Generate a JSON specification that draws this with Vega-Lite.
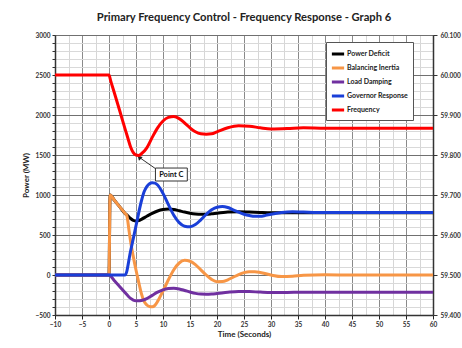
{
  "$schema": "https://vega.github.io/schema/vega-lite/v6.json",
  "width": 378,
  "height": 280,
  "autosize": {"type": "none"},
  "padding": {"left": 55, "top": 35, "right": 29, "bottom": 33},
  "background": "white",
  "title": {"text": "Primary Frequency Control - Frequency Response - Graph 6", "font": "Lato", "fontSize": 11.2, "fontWeight": "bold", "color": "#222222", "anchor": "middle", "offset": 9},
  "datasets": {
    "power": [
      {"t": -10, "s": "Power Deficit", "v": 0}, {"t": 0, "s": "Power Deficit", "v": 0}, {"t": 0.2, "s": "Power Deficit", "v": 1000}, {"t": 1, "s": "Power Deficit", "v": 934}, {"t": 2, "s": "Power Deficit", "v": 851}, {"t": 3, "s": "Power Deficit", "v": 768}, {"t": 3.3, "s": "Power Deficit", "v": 752}, {"t": 3.7, "s": "Power Deficit", "v": 724}, {"t": 4, "s": "Power Deficit", "v": 706}, {"t": 4.5, "s": "Power Deficit", "v": 684}, {"t": 5, "s": "Power Deficit", "v": 676}, {"t": 5.5, "s": "Power Deficit", "v": 681}, {"t": 6, "s": "Power Deficit", "v": 696}, {"t": 7, "s": "Power Deficit", "v": 734}, {"t": 8, "s": "Power Deficit", "v": 771}, {"t": 9, "s": "Power Deficit", "v": 800}, {"t": 10, "s": "Power Deficit", "v": 818}, {"t": 11, "s": "Power Deficit", "v": 824}, {"t": 12, "s": "Power Deficit", "v": 818}, {"t": 13, "s": "Power Deficit", "v": 803}, {"t": 14, "s": "Power Deficit", "v": 787}, {"t": 15, "s": "Power Deficit", "v": 773}, {"t": 16, "s": "Power Deficit", "v": 763}, {"t": 17, "s": "Power Deficit", "v": 758}, {"t": 18, "s": "Power Deficit", "v": 759}, {"t": 19, "s": "Power Deficit", "v": 765}, {"t": 20, "s": "Power Deficit", "v": 773}, {"t": 22, "s": "Power Deficit", "v": 786}, {"t": 24, "s": "Power Deficit", "v": 791}, {"t": 26, "s": "Power Deficit", "v": 787}, {"t": 28, "s": "Power Deficit", "v": 781}, {"t": 30, "s": "Power Deficit", "v": 777}, {"t": 35, "s": "Power Deficit", "v": 779}, {"t": 40, "s": "Power Deficit", "v": 778}, {"t": 60, "s": "Power Deficit", "v": 778},
      {"t": -10, "s": "Balancing Inertia", "v": 0}, {"t": 0, "s": "Balancing Inertia", "v": 0}, {"t": 0.2, "s": "Balancing Inertia", "v": 1000}, {"t": 1, "s": "Balancing Inertia", "v": 934}, {"t": 2, "s": "Balancing Inertia", "v": 851}, {"t": 3, "s": "Balancing Inertia", "v": 768}, {"t": 3.3, "s": "Balancing Inertia", "v": 742}, {"t": 3.7, "s": "Balancing Inertia", "v": 560}, {"t": 4, "s": "Balancing Inertia", "v": 420}, {"t": 4.5, "s": "Balancing Inertia", "v": 230}, {"t": 5, "s": "Balancing Inertia", "v": 62}, {"t": 5.5, "s": "Balancing Inertia", "v": -90}, {"t": 6, "s": "Balancing Inertia", "v": -232}, {"t": 6.5, "s": "Balancing Inertia", "v": -330}, {"t": 7, "s": "Balancing Inertia", "v": -375}, {"t": 7.5, "s": "Balancing Inertia", "v": -395}, {"t": 8, "s": "Balancing Inertia", "v": -398}, {"t": 8.5, "s": "Balancing Inertia", "v": -380}, {"t": 9, "s": "Balancing Inertia", "v": -330}, {"t": 10, "s": "Balancing Inertia", "v": -200}, {"t": 11, "s": "Balancing Inertia", "v": -60}, {"t": 12, "s": "Balancing Inertia", "v": 65}, {"t": 13, "s": "Balancing Inertia", "v": 150}, {"t": 14, "s": "Balancing Inertia", "v": 183}, {"t": 15, "s": "Balancing Inertia", "v": 172}, {"t": 16, "s": "Balancing Inertia", "v": 130}, {"t": 17, "s": "Balancing Inertia", "v": 65}, {"t": 18, "s": "Balancing Inertia", "v": 0}, {"t": 19, "s": "Balancing Inertia", "v": -55}, {"t": 20, "s": "Balancing Inertia", "v": -83}, {"t": 21, "s": "Balancing Inertia", "v": -82}, {"t": 22, "s": "Balancing Inertia", "v": -60}, {"t": 23, "s": "Balancing Inertia", "v": -28}, {"t": 24, "s": "Balancing Inertia", "v": 5}, {"t": 25, "s": "Balancing Inertia", "v": 30}, {"t": 26, "s": "Balancing Inertia", "v": 42}, {"t": 27, "s": "Balancing Inertia", "v": 41}, {"t": 28, "s": "Balancing Inertia", "v": 32}, {"t": 30, "s": "Balancing Inertia", "v": 0}, {"t": 32, "s": "Balancing Inertia", "v": -20}, {"t": 34, "s": "Balancing Inertia", "v": -15}, {"t": 36, "s": "Balancing Inertia", "v": -3}, {"t": 40, "s": "Balancing Inertia", "v": 3}, {"t": 45, "s": "Balancing Inertia", "v": 0}, {"t": 60, "s": "Balancing Inertia", "v": 0},
      {"t": -10, "s": "Load Damping", "v": 0}, {"t": 0, "s": "Load Damping", "v": 0}, {"t": 1, "s": "Load Damping", "v": -73}, {"t": 2, "s": "Load Damping", "v": -146}, {"t": 3, "s": "Load Damping", "v": -223}, {"t": 3.5, "s": "Load Damping", "v": -260}, {"t": 4, "s": "Load Damping", "v": -292}, {"t": 4.5, "s": "Load Damping", "v": -313}, {"t": 5, "s": "Load Damping", "v": -322}, {"t": 5.5, "s": "Load Damping", "v": -323}, {"t": 6, "s": "Load Damping", "v": -318}, {"t": 7, "s": "Load Damping", "v": -295}, {"t": 8, "s": "Load Damping", "v": -255}, {"t": 9, "s": "Load Damping", "v": -215}, {"t": 10, "s": "Load Damping", "v": -185}, {"t": 11, "s": "Load Damping", "v": -170}, {"t": 12, "s": "Load Damping", "v": -167}, {"t": 13, "s": "Load Damping", "v": -175}, {"t": 14, "s": "Load Damping", "v": -193}, {"t": 15, "s": "Load Damping", "v": -213}, {"t": 16, "s": "Load Damping", "v": -230}, {"t": 17, "s": "Load Damping", "v": -239}, {"t": 18, "s": "Load Damping", "v": -241}, {"t": 19, "s": "Load Damping", "v": -238}, {"t": 20, "s": "Load Damping", "v": -231}, {"t": 22, "s": "Load Damping", "v": -215}, {"t": 24, "s": "Load Damping", "v": -205}, {"t": 26, "s": "Load Damping", "v": -207}, {"t": 28, "s": "Load Damping", "v": -214}, {"t": 30, "s": "Load Damping", "v": -219}, {"t": 33, "s": "Load Damping", "v": -218}, {"t": 36, "s": "Load Damping", "v": -215}, {"t": 40, "s": "Load Damping", "v": -216}, {"t": 60, "s": "Load Damping", "v": -216},
      {"t": -10, "s": "Governor Response", "v": 0}, {"t": 3, "s": "Governor Response", "v": 0}, {"t": 4, "s": "Governor Response", "v": 300}, {"t": 5, "s": "Governor Response", "v": 615}, {"t": 6, "s": "Governor Response", "v": 925}, {"t": 6.5, "s": "Governor Response", "v": 1040}, {"t": 7, "s": "Governor Response", "v": 1105}, {"t": 7.5, "s": "Governor Response", "v": 1140}, {"t": 8, "s": "Governor Response", "v": 1152}, {"t": 8.5, "s": "Governor Response", "v": 1148}, {"t": 9, "s": "Governor Response", "v": 1125}, {"t": 10, "s": "Governor Response", "v": 1020}, {"t": 11, "s": "Governor Response", "v": 880}, {"t": 12, "s": "Governor Response", "v": 748}, {"t": 13, "s": "Governor Response", "v": 655}, {"t": 14, "s": "Governor Response", "v": 610}, {"t": 15, "s": "Governor Response", "v": 603}, {"t": 16, "s": "Governor Response", "v": 630}, {"t": 17, "s": "Governor Response", "v": 690}, {"t": 18, "s": "Governor Response", "v": 758}, {"t": 19, "s": "Governor Response", "v": 815}, {"t": 20, "s": "Governor Response", "v": 848}, {"t": 21, "s": "Governor Response", "v": 855}, {"t": 22, "s": "Governor Response", "v": 843}, {"t": 23, "s": "Governor Response", "v": 815}, {"t": 24, "s": "Governor Response", "v": 785}, {"t": 25, "s": "Governor Response", "v": 760}, {"t": 26, "s": "Governor Response", "v": 743}, {"t": 27, "s": "Governor Response", "v": 733}, {"t": 28, "s": "Governor Response", "v": 733}, {"t": 29, "s": "Governor Response", "v": 745}, {"t": 30, "s": "Governor Response", "v": 760}, {"t": 32, "s": "Governor Response", "v": 782}, {"t": 34, "s": "Governor Response", "v": 790}, {"t": 36, "s": "Governor Response", "v": 786}, {"t": 40, "s": "Governor Response", "v": 780}, {"t": 60, "s": "Governor Response", "v": 780}
    ],
    "freq": [
      {"t": -10, "s": "Frequency", "f": 60.0}, {"t": 0, "s": "Frequency", "f": 60.0}, {"t": 0.3, "s": "Frequency", "f": 59.986}, {"t": 1, "s": "Frequency", "f": 59.955}, {"t": 2, "s": "Frequency", "f": 59.910}, {"t": 3, "s": "Frequency", "f": 59.864}, {"t": 3.5, "s": "Frequency", "f": 59.842}, {"t": 4, "s": "Frequency", "f": 59.820}, {"t": 4.5, "s": "Frequency", "f": 59.806}, {"t": 5, "s": "Frequency", "f": 59.800}, {"t": 5.5, "s": "Frequency", "f": 59.799}, {"t": 6, "s": "Frequency", "f": 59.803}, {"t": 7, "s": "Frequency", "f": 59.818}, {"t": 8, "s": "Frequency", "f": 59.844}, {"t": 9, "s": "Frequency", "f": 59.868}, {"t": 10, "s": "Frequency", "f": 59.885}, {"t": 11, "s": "Frequency", "f": 59.894}, {"t": 12, "s": "Frequency", "f": 59.896}, {"t": 13, "s": "Frequency", "f": 59.891}, {"t": 14, "s": "Frequency", "f": 59.880}, {"t": 15, "s": "Frequency", "f": 59.868}, {"t": 16, "s": "Frequency", "f": 59.858}, {"t": 17, "s": "Frequency", "f": 59.853}, {"t": 18, "s": "Frequency", "f": 59.852}, {"t": 19, "s": "Frequency", "f": 59.853}, {"t": 20, "s": "Frequency", "f": 59.858}, {"t": 22, "s": "Frequency", "f": 59.868}, {"t": 24, "s": "Frequency", "f": 59.873}, {"t": 26, "s": "Frequency", "f": 59.872}, {"t": 28, "s": "Frequency", "f": 59.868}, {"t": 30, "s": "Frequency", "f": 59.865}, {"t": 33, "s": "Frequency", "f": 59.866}, {"t": 36, "s": "Frequency", "f": 59.868}, {"t": 40, "s": "Frequency", "f": 59.867}, {"t": 60, "s": "Frequency", "f": 59.867}
    ],
    "box": [{"t1": 8.6, "t2": 14.5, "p1": 1175, "p2": 1337, "tc": 11.55, "pc": 1256, "label": "Point C"}],
    "arrow": [{"ta": 8.6, "pa": 1330, "th": 5.6, "ph": 1471}]
  },
  "layer": [
    {
      "layer": [
        {
          "data": {"name": "power"},
          "mark": {"type": "line", "strokeWidth": 3, "interpolate": "monotone"},
          "encoding": {
            "x": {"field": "t", "type": "quantitative", "title": "Time (Seconds)", "scale": {"domain": [-10, 60], "nice": false, "zero": false},
              "axis": {"values": [-10, -7.5, -5, -2.5, 0, 2.5, 5, 7.5, 10, 12.5, 15, 17.5, 20, 22.5, 25, 27.5, 30, 32.5, 35, 37.5, 40, 42.5, 45, 47.5, 50, 52.5, 55, 57.5, 60],
                "labelExpr": "datum.value % 5 === 0 ? datum.label : ''", "format": "d",
                "gridColor": {"condition": {"test": "datum.value % 5 === 0", "value": "#8a8a8a"}, "value": "#d6d6d6"},
                "tickColor": {"condition": {"test": "datum.value % 5 === 0", "value": "#222222"}, "value": "transparent"},
                "tickSize": 4, "labelPadding": 2, "titlePadding": 3, "labelFlush": false, "labelOverlap": false}},
            "y": {"field": "v", "type": "quantitative", "title": "Power (MW)", "scale": {"domain": [-500, 3000], "nice": false, "zero": false},
              "axis": {"values": [-500, -400, -300, -200, -100, 0, 100, 200, 300, 400, 500, 600, 700, 800, 900, 1000, 1100, 1200, 1300, 1400, 1500, 1600, 1700, 1800, 1900, 2000, 2100, 2200, 2300, 2400, 2500, 2600, 2700, 2800, 2900, 3000],
                "labelExpr": "datum.value % 500 === 0 ? datum.label : ''", "format": "d",
                "gridColor": {"condition": {"test": "datum.value % 500 === 0", "value": "#707070"}, "value": "#d9d9d9"},
                "tickSize": 3, "labelPadding": 2, "titlePadding": 4, "labelOverlap": false}},
            "color": {"field": "s", "type": "nominal",
              "scale": {"domain": ["Power Deficit", "Balancing Inertia", "Load Damping", "Governor Response", "Frequency"], "range": ["#000000", "#F79646", "#7030A0", "#1A3FD8", "#FF0000"]},
              "legend": {"title": null, "orient": "none", "legendX": 271, "legendY": 7}}
          }
        },
        {
          "data": {"name": "box"},
          "mark": {"type": "rect", "fill": "white", "stroke": "#333333", "strokeWidth": 1},
          "encoding": {
            "x": {"field": "t1", "type": "quantitative", "title": "Time (Seconds)",
              "axis": {"values": [-10, -7.5, -5, -2.5, 0, 2.5, 5, 7.5, 10, 12.5, 15, 17.5, 20, 22.5, 25, 27.5, 30, 32.5, 35, 37.5, 40, 42.5, 45, 47.5, 50, 52.5, 55, 57.5, 60],
                "labelExpr": "datum.value % 5 === 0 ? datum.label : ''", "format": "d",
                "gridColor": {"condition": {"test": "datum.value % 5 === 0", "value": "#8a8a8a"}, "value": "#d6d6d6"},
                "tickColor": {"condition": {"test": "datum.value % 5 === 0", "value": "#222222"}, "value": "transparent"},
                "tickSize": 4, "labelPadding": 2, "titlePadding": 3, "labelFlush": false, "labelOverlap": false}},
            "x2": {"field": "t2"},
            "y": {"field": "p1", "type": "quantitative", "title": "Power (MW)",
              "axis": {"values": [-500, -400, -300, -200, -100, 0, 100, 200, 300, 400, 500, 600, 700, 800, 900, 1000, 1100, 1200, 1300, 1400, 1500, 1600, 1700, 1800, 1900, 2000, 2100, 2200, 2300, 2400, 2500, 2600, 2700, 2800, 2900, 3000],
                "labelExpr": "datum.value % 500 === 0 ? datum.label : ''", "format": "d",
                "gridColor": {"condition": {"test": "datum.value % 500 === 0", "value": "#707070"}, "value": "#d9d9d9"},
                "tickSize": 3, "labelPadding": 2, "titlePadding": 4, "labelOverlap": false}},
            "y2": {"field": "p2"}
          }
        },
        {
          "data": {"name": "box"},
          "mark": {"type": "text", "font": "Lato", "fontSize": 7.5, "fontWeight": "bold", "color": "#111111"},
          "encoding": {
            "x": {"field": "tc", "type": "quantitative", "title": "Time (Seconds)",
              "axis": {"values": [-10, -7.5, -5, -2.5, 0, 2.5, 5, 7.5, 10, 12.5, 15, 17.5, 20, 22.5, 25, 27.5, 30, 32.5, 35, 37.5, 40, 42.5, 45, 47.5, 50, 52.5, 55, 57.5, 60],
                "labelExpr": "datum.value % 5 === 0 ? datum.label : ''", "format": "d",
                "gridColor": {"condition": {"test": "datum.value % 5 === 0", "value": "#8a8a8a"}, "value": "#d6d6d6"},
                "tickColor": {"condition": {"test": "datum.value % 5 === 0", "value": "#222222"}, "value": "transparent"},
                "tickSize": 4, "labelPadding": 2, "titlePadding": 3, "labelFlush": false, "labelOverlap": false}},
            "y": {"field": "pc", "type": "quantitative", "title": "Power (MW)",
              "axis": {"values": [-500, -400, -300, -200, -100, 0, 100, 200, 300, 400, 500, 600, 700, 800, 900, 1000, 1100, 1200, 1300, 1400, 1500, 1600, 1700, 1800, 1900, 2000, 2100, 2200, 2300, 2400, 2500, 2600, 2700, 2800, 2900, 3000],
                "labelExpr": "datum.value % 500 === 0 ? datum.label : ''", "format": "d",
                "gridColor": {"condition": {"test": "datum.value % 500 === 0", "value": "#707070"}, "value": "#d9d9d9"},
                "tickSize": 3, "labelPadding": 2, "titlePadding": 4, "labelOverlap": false}},
            "text": {"field": "label"}
          }
        },
        {
          "data": {"name": "arrow"},
          "mark": {"type": "rule", "stroke": "#333333", "strokeWidth": 1},
          "encoding": {
            "x": {"field": "ta", "type": "quantitative", "title": "Time (Seconds)",
              "axis": {"values": [-10, -7.5, -5, -2.5, 0, 2.5, 5, 7.5, 10, 12.5, 15, 17.5, 20, 22.5, 25, 27.5, 30, 32.5, 35, 37.5, 40, 42.5, 45, 47.5, 50, 52.5, 55, 57.5, 60],
                "labelExpr": "datum.value % 5 === 0 ? datum.label : ''", "format": "d",
                "gridColor": {"condition": {"test": "datum.value % 5 === 0", "value": "#8a8a8a"}, "value": "#d6d6d6"},
                "tickColor": {"condition": {"test": "datum.value % 5 === 0", "value": "#222222"}, "value": "transparent"},
                "tickSize": 4, "labelPadding": 2, "titlePadding": 3, "labelFlush": false, "labelOverlap": false}},
            "y": {"field": "pa", "type": "quantitative", "title": "Power (MW)",
              "axis": {"values": [-500, -400, -300, -200, -100, 0, 100, 200, 300, 400, 500, 600, 700, 800, 900, 1000, 1100, 1200, 1300, 1400, 1500, 1600, 1700, 1800, 1900, 2000, 2100, 2200, 2300, 2400, 2500, 2600, 2700, 2800, 2900, 3000],
                "labelExpr": "datum.value % 500 === 0 ? datum.label : ''", "format": "d",
                "gridColor": {"condition": {"test": "datum.value % 500 === 0", "value": "#707070"}, "value": "#d9d9d9"},
                "tickSize": 3, "labelPadding": 2, "titlePadding": 4, "labelOverlap": false}},
            "x2": {"field": "th"},
            "y2": {"field": "ph"}
          }
        },
        {
          "data": {"name": "arrow"},
          "mark": {"type": "point", "shape": "triangle-up", "filled": true, "color": "#222222", "size": 28, "angle": 315, "opacity": 1},
          "encoding": {
            "x": {"field": "th", "type": "quantitative", "title": "Time (Seconds)",
              "axis": {"values": [-10, -7.5, -5, -2.5, 0, 2.5, 5, 7.5, 10, 12.5, 15, 17.5, 20, 22.5, 25, 27.5, 30, 32.5, 35, 37.5, 40, 42.5, 45, 47.5, 50, 52.5, 55, 57.5, 60],
                "labelExpr": "datum.value % 5 === 0 ? datum.label : ''", "format": "d",
                "gridColor": {"condition": {"test": "datum.value % 5 === 0", "value": "#8a8a8a"}, "value": "#d6d6d6"},
                "tickColor": {"condition": {"test": "datum.value % 5 === 0", "value": "#222222"}, "value": "transparent"},
                "tickSize": 4, "labelPadding": 2, "titlePadding": 3, "labelFlush": false, "labelOverlap": false}},
            "y": {"field": "ph", "type": "quantitative", "title": "Power (MW)",
              "axis": {"values": [-500, -400, -300, -200, -100, 0, 100, 200, 300, 400, 500, 600, 700, 800, 900, 1000, 1100, 1200, 1300, 1400, 1500, 1600, 1700, 1800, 1900, 2000, 2100, 2200, 2300, 2400, 2500, 2600, 2700, 2800, 2900, 3000],
                "labelExpr": "datum.value % 500 === 0 ? datum.label : ''", "format": "d",
                "gridColor": {"condition": {"test": "datum.value % 500 === 0", "value": "#707070"}, "value": "#d9d9d9"},
                "tickSize": 3, "labelPadding": 2, "titlePadding": 4, "labelOverlap": false}}
          }
        }
      ]
    },
    {
      "data": {"name": "freq"},
      "mark": {"type": "line", "strokeWidth": 3, "interpolate": "monotone"},
      "encoding": {
        "x": {"field": "t", "type": "quantitative", "title": "Time (Seconds)",
          "axis": {"values": [-10, -7.5, -5, -2.5, 0, 2.5, 5, 7.5, 10, 12.5, 15, 17.5, 20, 22.5, 25, 27.5, 30, 32.5, 35, 37.5, 40, 42.5, 45, 47.5, 50, 52.5, 55, 57.5, 60],
            "labelExpr": "datum.value % 5 === 0 ? datum.label : ''", "format": "d",
            "gridColor": {"condition": {"test": "datum.value % 5 === 0", "value": "#8a8a8a"}, "value": "#d6d6d6"},
            "tickColor": {"condition": {"test": "datum.value % 5 === 0", "value": "#222222"}, "value": "transparent"},
            "tickSize": 4, "labelPadding": 2, "titlePadding": 3, "labelFlush": false, "labelOverlap": false}},
        "y": {"field": "f", "type": "quantitative", "scale": {"domain": [59.4, 60.1], "nice": false, "zero": false},
          "axis": {"orient": "right", "title": null, "grid": false, "values": [59.4, 59.5, 59.6, 59.7, 59.8, 59.9, 60.0, 60.1], "format": ".3f", "tickSize": 4, "labelPadding": 3}},
        "color": {"field": "s", "type": "nominal",
          "scale": {"domain": ["Power Deficit", "Balancing Inertia", "Load Damping", "Governor Response", "Frequency"], "range": ["#000000", "#F79646", "#7030A0", "#1A3FD8", "#FF0000"]}}
      }
    }
  ],
  "resolve": {"scale": {"y": "independent"}},
  "config": {
    "font": "Lato",
    "view": {"stroke": "#888888"},
    "axis": {"labelFont": "Lato", "labelFontSize": 6.5, "labelFontWeight": "bold", "labelColor": "#333333", "titleFont": "Lato", "titleFontSize": 8, "titleFontWeight": "bold", "titleColor": "#222222", "domainColor": "#333333", "domainWidth": 1.5, "tickColor": "#333333", "gridWidth": 1},
    "legend": {"labelFont": "Lato", "labelFontSize": 7, "labelFontWeight": "bold", "labelColor": "#222222", "symbolType": "stroke", "symbolStrokeWidth": 3, "symbolSize": 150, "labelOffset": 1, "rowPadding": 0, "padding": 4, "strokeColor": "#555555", "fillColor": "white", "cornerRadius": 0}
  }
}
